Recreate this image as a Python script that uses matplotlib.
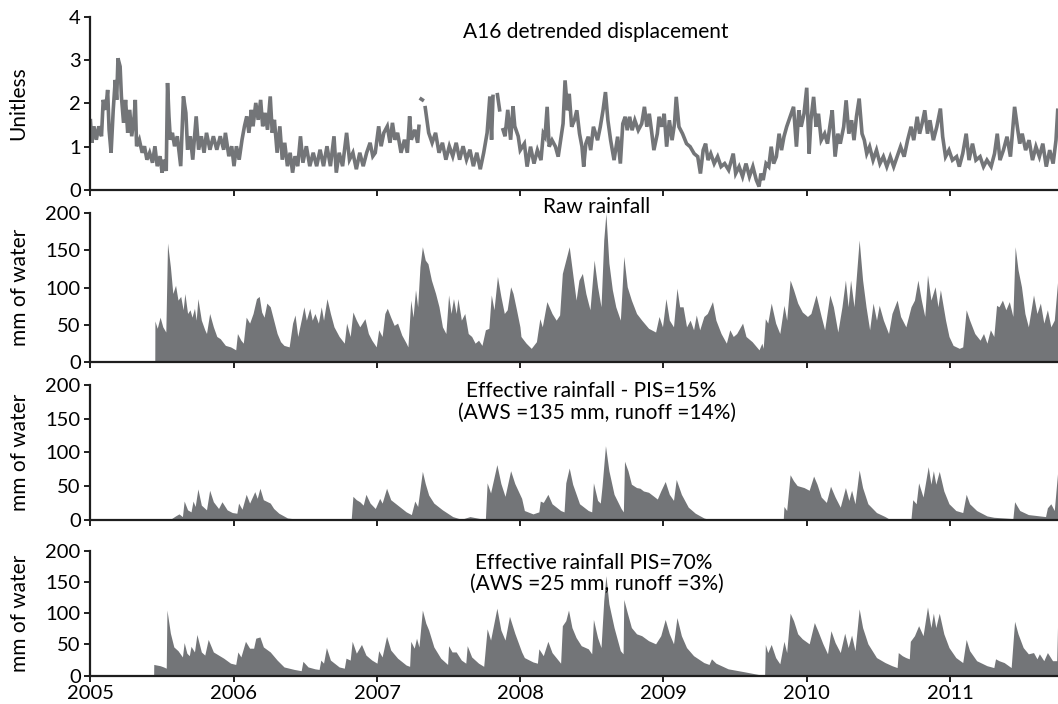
import numpy as np
import matplotlib
matplotlib.use("Agg")
import matplotlib.pyplot as plt

plt.rcParams['font.family'] = ['Lato', 'DejaVu Sans']

# all times are years after 1 Jan 2005
# A16 detrended displacement (unitless), NaN = gap in the record
disp_t = [0.000, 0.010, 0.024, 0.041, 0.058, 0.077, 0.089, 0.106, 0.120, 0.130, 0.144, 0.159, 0.173, 0.183, 0.192,
          0.207, 0.216, 0.231, 0.245, 0.260, 0.274, 0.288, 0.305, 0.313, 0.322, 0.341, 0.361, 0.377, 0.394, 0.413,
          0.433, 0.450, 0.466, 0.486, 0.500, 0.514, 0.529, 0.538, 0.548, 0.558, 0.572, 0.587, 0.606, 0.630, 0.649,
          0.666, 0.678, 0.697, 0.714, 0.738, 0.755, 0.774, 0.793, 0.810, 0.834, 0.858, 0.882, 0.906, 0.930, 0.942,
          0.966, 0.986, 1.002, 1.019, 1.038, 1.058, 1.075, 1.091, 1.106, 1.123, 1.135, 1.154, 1.171, 1.188, 1.202,
          1.219, 1.236, 1.255, 1.269, 1.284, 1.303, 1.322, 1.339, 1.356, 1.375, 1.394, 1.411, 1.428, 1.447, 1.466,
          1.483, 1.507, 1.531, 1.555, 1.579, 1.603, 1.627, 1.651, 1.675, 1.700, 1.716, 1.736, 1.760, 1.788, 1.808,
          1.832, 1.856, 1.880, 1.904, 1.928, 1.952, 1.971, 1.988, 2.012, 2.029, 2.048, 2.072, 2.091, 2.108, 2.125,
          2.144, 2.168, 2.192, 2.212, 2.228, 2.240, 2.264, 2.284, 2.293, 2.300, 2.308, 2.317, 2.325, 2.337, 2.361,
          2.385, 2.409, 2.433, 2.457, 2.481, 2.505, 2.529, 2.553, 2.577, 2.601, 2.625, 2.649, 2.673, 2.697, 2.721,
          2.745, 2.769, 2.788, 2.800, 2.810, 2.820, 2.841, 2.856, 2.866, 2.880, 2.894, 2.913, 2.933, 2.950, 2.962,
          2.986, 3.000, 3.029, 3.048, 3.072, 3.096, 3.120, 3.145, 3.161, 3.173, 3.188, 3.202, 3.222, 3.246, 3.265,
          3.282, 3.299, 3.313, 3.330, 3.342, 3.359, 3.378, 3.395, 3.414, 3.431, 3.443, 3.458, 3.475, 3.492, 3.511,
          3.540, 3.559, 3.578, 3.595, 3.612, 3.631, 3.655, 3.680, 3.699, 3.716, 3.733, 3.747, 3.764, 3.781, 3.800,
          3.824, 3.848, 3.867, 3.884, 3.901, 3.916, 3.933, 3.957, 3.969, 3.988, 4.005, 4.022, 4.041, 4.060, 4.077,
          4.089, 4.108, 4.133, 4.161, 4.186, 4.214, 4.239, 4.258, 4.277, 4.294, 4.311, 4.330, 4.354, 4.378, 4.402,
          4.427, 4.455, 4.487, 4.504, 4.528, 4.552, 4.576, 4.600, 4.624, 4.648, 4.667, 4.680, 4.696, 4.716, 4.735,
          4.752, 4.769, 4.788, 4.807, 4.824, 4.841, 4.860, 4.884, 4.908, 4.928, 4.945, 4.961, 4.981, 5.000, 5.017,
          5.029, 5.048, 5.065, 5.082, 5.101, 5.125, 5.145, 5.161, 5.178, 5.198, 5.217, 5.234, 5.258, 5.275, 5.294,
          5.313, 5.330, 5.347, 5.366, 5.386, 5.402, 5.419, 5.439, 5.463, 5.487, 5.511, 5.535, 5.559, 5.583, 5.607,
          5.631, 5.655, 5.680, 5.704, 5.728, 5.747, 5.771, 5.788, 5.805, 5.824, 5.843, 5.860, 5.884, 5.908, 5.933,
          5.949, 5.969, 5.993, 6.017, 6.046, 6.065, 6.089, 6.113, 6.133, 6.157, 6.181, 6.210, 6.234, 6.258, 6.287,
          6.311, 6.330, 6.349, 6.373, 6.398, 6.422, 6.451, 6.470, 6.487, 6.504, 6.528, 6.552, 6.576, 6.600, 6.624,
          6.648, 6.672, 6.696, 6.720, 6.740, 6.752]
disp_v = [1.60, 1.09, 1.47, 1.16, 1.47, 1.24, 2.08, 1.85, 2.31, 1.39, 0.86, 1.85, 2.54, 2.08, 3.04,
          2.85, 2.16, 1.55, 2.08, 1.32, 1.85, 1.24, 1.70, 2.08, 1.01, 1.16, 0.86, 1.01, 0.70, 0.86,
          0.63, 1.01, 0.55, 0.78, 0.40, 0.70, 0.44, 2.47, 1.70, 1.16, 1.32, 1.01, 1.24, 0.55, 2.16,
          1.78, 0.93, 1.24, 0.70, 1.70, 0.93, 1.24, 0.86, 1.32, 0.93, 1.24, 0.93, 1.24, 0.93, 1.32,
          0.78, 1.01, 0.55, 1.01, 0.70, 1.16, 1.47, 1.70, 1.32, 1.85, 1.47, 2.01, 1.62, 2.08, 1.47,
          1.78, 1.39, 2.16, 1.32, 1.62, 0.86, 1.47, 0.70, 1.09, 0.55, 0.86, 0.40, 0.78, 0.55, 1.24,
          0.63, 1.01, 0.55, 0.86, 0.55, 0.93, 0.55, 1.01, 0.55, 1.24, 0.40, 0.86, 0.55, 1.32, 0.70,
          0.86, 0.48, 0.86, 0.55, 0.86, 1.09, 0.78, 0.86, 1.47, 1.01, 1.32, 1.47, 1.09, 1.55, 1.16,
          1.32, 0.86, 1.16, 0.86, 1.70, 1.16, 1.39, 1.09, 1.47, np.nan, 2.10, 2.08, np.nan, 1.90, 1.32,
          1.09, 1.32, 0.86, 1.09, 0.70, 1.01, 0.78, 1.09, 0.70, 1.01, 0.70, 0.93, 0.55, 0.86, 0.48,
          0.86, 1.32, 2.16, 1.16, 2.16, np.nan, 2.20, 1.85, np.nan, 1.39, 1.24, 1.85, 1.16, 1.93, 1.47,
          1.24, 0.92, 1.07, 0.54, 1.00, 0.61, 0.92, 0.69, 1.30, 1.23, 1.92, 1.00, 1.15, 1.00, 0.77,
          1.15, 1.53, 2.53, 1.84, 2.22, 1.46, 1.61, 1.84, 1.30, 1.00, 0.54, 1.07, 1.23, 0.92, 1.46,
          1.15, 1.46, 1.84, 2.26, 1.61, 1.15, 0.69, 1.23, 0.61, 1.53, 1.69, 1.38, 1.69, 1.38, 1.61,
          1.38, 1.53, 1.92, 1.46, 1.76, 1.38, 0.92, 1.30, 1.69, 1.46, 1.76, 1.00, 1.61, 1.15, 1.53,
          2.15, 1.46, 1.30, 1.07, 1.00, 0.84, 0.77, 0.38, 0.92, 1.07, 0.69, 0.84, 0.61, 0.77, 0.54,
          0.61, 0.46, 0.84, 0.38, 0.54, 0.31, 0.61, 0.31, 0.54, 0.23, 0.08, 0.38, 0.23, 0.61, 0.54,
          1.00, 0.61, 0.77, 1.30, 0.92, 1.23, 1.46, 1.69, 1.92, 1.00, 1.84, 1.46, 1.76, 2.36, 0.84,
          1.61, 2.15, 1.46, 1.76, 1.15, 1.30, 1.07, 1.46, 1.84, 0.77, 1.30, 1.07, 1.46, 2.07, 1.30,
          1.61, 1.15, 1.69, 2.11, 1.30, 1.15, 0.84, 1.00, 0.69, 0.92, 0.61, 0.77, 0.54, 0.77, 0.54,
          0.77, 1.00, 0.77, 1.15, 1.46, 1.15, 1.69, 1.30, 1.53, 1.84, 1.30, 1.61, 1.15, 1.46, 1.88,
          1.23, 0.77, 0.92, 0.69, 0.77, 0.54, 0.84, 1.30, 0.69, 1.07, 0.69, 0.77, 0.54, 0.69, 0.54,
          0.84, 1.30, 0.69, 0.92, 1.23, 0.77, 1.92, 1.46, 1.07, 1.30, 0.92, 1.15, 0.69, 1.00, 0.77,
          1.07, 0.54, 0.92, 0.61, 1.15, 1.84]

# raw rainfall (mm of water)
raw_t = [0.449, 0.450, 0.466, 0.486, 0.505, 0.526, 0.538, 0.558, 0.575, 0.594, 0.611, 0.630, 0.647, 0.659, 0.678,
         0.695, 0.709, 0.726, 0.738, 0.750, 0.774, 0.798, 0.810, 0.832, 0.858, 0.882, 0.906, 0.942, 0.978, 1.014,
         1.026, 1.050, 1.067, 1.087, 1.111, 1.135, 1.159, 1.178, 1.195, 1.212, 1.231, 1.255, 1.279, 1.303, 1.327,
         1.351, 1.387, 1.411, 1.428, 1.447, 1.471, 1.490, 1.507, 1.531, 1.548, 1.567, 1.591, 1.611, 1.627, 1.651,
         1.675, 1.700, 1.736, 1.772, 1.788, 1.813, 1.832, 1.856, 1.880, 1.916, 1.940, 1.964, 1.995, 2.012, 2.036,
         2.055, 2.072, 2.096, 2.120, 2.144, 2.173, 2.204, 2.216, 2.236, 2.252, 2.269, 2.284, 2.300, 2.317, 2.337,
         2.356, 2.380, 2.409, 2.433, 2.457, 2.481, 2.500, 2.517, 2.534, 2.553, 2.565, 2.589, 2.613, 2.637, 2.661,
         2.685, 2.709, 2.733, 2.757, 2.781, 2.798, 2.817, 2.841, 2.865, 2.889, 2.909, 2.933, 2.950, 2.974, 2.998,
         3.005, 3.041, 3.077, 3.113, 3.137, 3.154, 3.186, 3.222, 3.251, 3.275, 3.294, 3.318, 3.342, 3.366, 3.390,
         3.410, 3.434, 3.458, 3.487, 3.516, 3.540, 3.564, 3.583, 3.598, 3.619, 3.643, 3.667, 3.699, 3.723, 3.747,
         3.776, 3.812, 3.848, 3.896, 3.945, 3.969, 3.993, 4.017, 4.041, 4.070, 4.094, 4.113, 4.137, 4.161, 4.186,
         4.210, 4.229, 4.253, 4.282, 4.306, 4.342, 4.366, 4.402, 4.439, 4.463, 4.487, 4.511, 4.552, 4.576, 4.619,
         4.667, 4.687, 4.696, 4.711, 4.728, 4.752, 4.783, 4.812, 4.841, 4.860, 4.884, 4.908, 4.937, 4.969, 5.005,
         5.029, 5.065, 5.101, 5.125, 5.161, 5.186, 5.217, 5.246, 5.270, 5.289, 5.306, 5.330, 5.366, 5.390, 5.414,
         5.439, 5.463, 5.487, 5.506, 5.535, 5.571, 5.595, 5.631, 5.655, 5.692, 5.728, 5.752, 5.776, 5.800, 5.824,
         5.843, 5.867, 5.896, 5.916, 5.933, 5.969, 5.993, 6.022, 6.065, 6.089, 6.113, 6.137, 6.173, 6.210, 6.234,
         6.258, 6.282, 6.306, 6.325, 6.342, 6.366, 6.390, 6.414, 6.439, 6.455, 6.475, 6.499, 6.523, 6.547, 6.583,
         6.607, 6.631, 6.655, 6.680, 6.704, 6.728, 6.752]
raw_v = [0, 55, 45, 60, 47, 40, 160, 128, 92, 103, 83, 88, 70, 92, 65,
         70, 60, 72, 56, 85, 56, 43, 38, 65, 47, 34, 31, 22, 20, 16,
         38, 29, 25, 60, 52, 65, 85, 88, 67, 60, 79, 74, 56, 38, 27,
         22, 20, 52, 63, 34, 56, 74, 56, 72, 56, 65, 52, 74, 56, 85,
         65, 47, 34, 25, 52, 34, 67, 56, 47, 58, 38, 29, 20, 43, 34,
         65, 72, 60, 49, 52, 36, 25, 20, 83, 60, 97, 74, 128, 155, 137,
         132, 110, 92, 74, 47, 38, 90, 65, 85, 65, 85, 56, 65, 38, 34,
         25, 29, 22, 43, 45, 90, 70, 115, 88, 65, 70, 101, 92, 70, 47,
         34, 25, 18, 27, 58, 47, 81, 65, 56, 63, 119, 137, 155, 119, 83,
         110, 119, 92, 70, 137, 101, 74, 164, 200, 133, 97, 74, 56, 142, 101,
         83, 65, 56, 45, 40, 61, 47, 85, 56, 47, 99, 74, 74, 47, 56,
         43, 63, 43, 61, 65, 81, 56, 38, 25, 43, 34, 38, 52, 34, 27,
         16, 25, 18, 58, 52, 79, 52, 38, 76, 56, 110, 97, 79, 67, 61,
         65, 90, 61, 43, 90, 74, 40, 74, 110, 74, 110, 74, 164, 110, 74,
         43, 79, 56, 76, 56, 38, 65, 83, 61, 47, 74, 83, 110, 83, 61,
         117, 83, 101, 74, 97, 56, 34, 22, 18, 20, 70, 56, 38, 29, 38,
         25, 43, 34, 76, 74, 83, 70, 81, 61, 155, 124, 101, 65, 47, 90,
         65, 79, 52, 70, 47, 56, 110]

# effective rainfall, PIS = 15 %
eff15_t = [0.449, 0.450, 0.558, 0.594, 0.618, 0.642, 0.654, 0.678, 0.702, 0.716, 0.731, 0.750, 0.774, 0.810, 0.832,
           0.858, 0.894, 0.918, 0.954, 0.990, 1.022, 1.034, 1.058, 1.087, 1.111, 1.147, 1.164, 1.183, 1.207, 1.255,
           1.279, 1.315, 1.375, 1.447, 1.820, 1.832, 1.856, 1.880, 1.904, 1.923, 1.952, 1.988, 2.019, 2.036, 2.067,
           2.096, 2.156, 2.204, 2.240, 2.264, 2.284, 2.317, 2.337, 2.361, 2.397, 2.457, 2.529, 2.589, 2.649, 2.721,
           2.757, 2.769, 2.793, 2.837, 2.865, 2.894, 2.933, 2.962, 3.010, 3.029, 3.089, 3.130, 3.140, 3.161, 3.193,
           3.222, 3.282, 3.306, 3.318, 3.342, 3.366, 3.414, 3.475, 3.499, 3.511, 3.540, 3.559, 3.571, 3.595, 3.619,
           3.655, 3.704, 3.720, 3.728, 3.752, 3.776, 3.812, 3.836, 3.860, 3.896, 3.933, 3.957, 3.981, 4.012, 4.041,
           4.070, 4.089, 4.125, 4.173, 4.222, 4.282, 4.330, 4.836, 4.841, 4.860, 4.884, 4.908, 4.933, 4.981, 5.017,
           5.048, 5.072, 5.101, 5.137, 5.166, 5.198, 5.234, 5.270, 5.294, 5.313, 5.337, 5.366, 5.390, 5.427, 5.487,
           5.547, 5.571, 5.728, 5.740, 5.764, 5.781, 5.812, 5.848, 5.867, 5.884, 5.901, 5.925, 5.957, 5.993, 6.041,
           6.089, 6.113, 6.137, 6.186, 6.258, 6.306, 6.439, 6.451, 6.487, 6.547, 6.667, 6.680, 6.704, 6.728, 6.752]
eff15_v = [0, 2, 1, 6, 9, 5, 28, 15, 12, 28, 20, 46, 22, 15, 44,
           27, 17, 27, 15, 11, 10, 25, 16, 38, 25, 42, 32, 47, 30, 25,
           17, 10, 3, 1, 0.5, 35, 30, 27, 22, 38, 25, 17, 32, 25, 47,
           30, 20, 12, 8, 28, 20, 72, 54, 37, 25, 15, 5, 1, 5, 2,
           2, 55, 40, 82, 54, 35, 73, 54, 32, 14, 9, 12, 28, 26, 38,
           24, 14, 12, 55, 77, 53, 24, 14, 12, 55, 29, 25, 50, 110, 73,
           38, 17, 12, 87, 73, 53, 48, 47, 43, 41, 35, 31, 43, 57, 38,
           29, 60, 38, 19, 10, 3, 0, 0, 20, 14, 67, 58, 51, 48, 44,
           65, 53, 34, 26, 50, 34, 19, 48, 29, 44, 24, 74, 48, 24, 11,
           5, 2, 2, 30, 24, 55, 34, 79, 53, 73, 53, 72, 43, 24, 14,
           11, 38, 24, 14, 6, 4, 2, 27, 14, 8, 5, 18, 24, 14, 72]

# effective rainfall, PIS = 70 %
eff70_t = [0.441, 0.442, 0.486, 0.510, 0.529, 0.534, 0.558, 0.582, 0.611, 0.642, 0.654, 0.673, 0.690, 0.702, 0.726,
           0.743, 0.774, 0.798, 0.822, 0.858, 0.894, 0.930, 0.978, 1.014, 1.029, 1.050, 1.082, 1.111, 1.139, 1.154,
           1.183, 1.207, 1.255, 1.303, 1.351, 1.423, 1.471, 1.483, 1.519, 1.567, 1.596, 1.608, 1.627, 1.647, 1.675,
           1.736, 1.772, 1.784, 1.813, 1.827, 1.856, 1.892, 1.923, 1.964, 2.000, 2.012, 2.036, 2.067, 2.096, 2.144,
           2.204, 2.228, 2.236, 2.260, 2.276, 2.293, 2.317, 2.341, 2.361, 2.397, 2.445, 2.493, 2.500, 2.524, 2.553,
           2.589, 2.620, 2.630, 2.661, 2.709, 2.745, 2.769, 2.793, 2.837, 2.865, 2.894, 2.925, 2.962, 3.010, 3.029,
           3.089, 3.120, 3.130, 3.161, 3.193, 3.222, 3.282, 3.294, 3.318, 3.337, 3.361, 3.390, 3.426, 3.475, 3.499,
           3.511, 3.540, 3.564, 3.583, 3.598, 3.619, 3.655, 3.699, 3.718, 3.723, 3.747, 3.776, 3.812, 3.848, 3.896,
           3.945, 3.981, 4.012, 4.041, 4.070, 4.094, 4.125, 4.161, 4.210, 4.282, 4.318, 4.335, 4.366, 4.451, 4.571,
           4.696, 4.706, 4.711, 4.728, 4.752, 4.783, 4.812, 4.841, 4.860, 4.884, 4.908, 4.937, 4.969, 5.017, 5.053,
           5.077, 5.113, 5.145, 5.169, 5.198, 5.234, 5.265, 5.289, 5.313, 5.337, 5.366, 5.390, 5.427, 5.487, 5.547,
           5.595, 5.631, 5.639, 5.667, 5.692, 5.716, 5.723, 5.752, 5.781, 5.812, 5.843, 5.867, 5.884, 5.901, 5.925,
           5.957, 5.993, 6.041, 6.089, 6.113, 6.137, 6.186, 6.258, 6.306, 6.318, 6.342, 6.378, 6.427, 6.451, 6.475,
           6.511, 6.547, 6.583, 6.607, 6.624, 6.655, 6.680, 6.716, 6.745, 6.752]
eff70_v = [0, 18, 16, 14, 12, 105, 68, 46, 40, 30, 53, 36, 32, 47, 38,
           66, 38, 33, 58, 38, 33, 28, 20, 18, 38, 30, 55, 44, 44, 60,
           62, 46, 38, 25, 14, 10, 8, 23, 14, 11, 10, 25, 20, 45, 25,
           14, 12, 28, 25, 55, 36, 50, 33, 25, 20, 40, 30, 63, 41, 28,
           17, 15, 55, 44, 60, 46, 105, 84, 73, 46, 28, 18, 48, 38, 38,
           25, 20, 48, 30, 20, 15, 75, 57, 108, 73, 57, 95, 68, 38, 29,
           22, 20, 43, 32, 55, 37, 20, 80, 88, 105, 77, 61, 48, 43, 35,
           90, 61, 45, 120, 160, 115, 77, 40, 35, 122, 101, 77, 67, 64, 56,
           51, 64, 90, 67, 51, 93, 64, 45, 32, 21, 18, 27, 20, 11, 6,
           0.5, 0, 50, 37, 50, 29, 19, 55, 37, 100, 88, 67, 59, 51, 85,
           72, 51, 35, 72, 53, 37, 68, 45, 65, 40, 107, 77, 51, 29, 21,
           16, 13, 37, 32, 29, 27, 55, 64, 80, 64, 110, 77, 100, 77, 100,
           67, 45, 29, 21, 58, 40, 24, 16, 13, 27, 24, 21, 13, 87, 67,
           45, 35, 37, 27, 35, 24, 37, 24, 24, 92]

years = [2005, 2006, 2007, 2008, 2009, 2010, 2011]

grey = '#737578'
ink = '#1e1e1e'
fs = 15

fig = plt.figure(figsize=(10.58, 7.04), dpi=100)
left, width = 0.0855, 0.9145
ax1 = fig.add_axes([left, 0.7301, width, 0.2462])
ax2 = fig.add_axes([left, 0.4862, width, 0.2108])
ax3 = fig.add_axes([left, 0.2614, width, 0.1918])
ax4 = fig.add_axes([left, 0.0402, width, 0.1776])

t0 = 2005
ax1.plot(t0 + np.array(disp_t), disp_v, color=grey, lw=2.6, solid_joinstyle='miter')
ax2.fill_between(t0 + np.array(raw_t), raw_v, color=grey, lw=0)
ax3.fill_between(t0 + np.array(eff15_t), eff15_v, color=grey, lw=0)
ax4.fill_between(t0 + np.array(eff70_t), eff70_v, color=grey, lw=0)

for ax in [ax1, ax2, ax3, ax4]:
    ax.set_xlim(2005, 2011.754)
    ax.set_xticks(years)
    for s in ['top', 'right']:
        ax.spines[s].set_visible(False)
    for s in ['left', 'bottom']:
        ax.spines[s].set_linewidth(1.6)
        ax.spines[s].set_color(ink)
    ax.tick_params(direction='out', length=4, width=1.4, color=ink, labelsize=14.5, pad=3)
    ax.tick_params(axis='x', pad=2.5)
    ax.set_facecolor('none')

ax1.set_ylim(0, 4)
ax1.set_yticks([0, 1, 2, 3, 4])
ax1.set_ylabel('Unitless', fontsize=fs, va='center')
ax1.yaxis.set_label_coords(-0.075, 0.5)
for ax in [ax2, ax3, ax4]:
    ax.set_ylim(0, 200)
    ax.set_yticks([0, 50, 100, 150, 200])
    ax.set_ylabel('mm of water', fontsize=fs, va='center')
    ax.yaxis.set_label_coords(-0.073, 0.5)
for ax in [ax1, ax2, ax3]:
    ax.set_xticklabels([])
ax4.set_xticklabels([str(y) for y in years])

ax1.text(0.5225, 0.913, 'A16 detrended displacement', transform=ax1.transAxes,
         ha='center', va='center', fontsize=fs)
ax2.text(0.523, 1.044, 'Raw rainfall', transform=ax2.transAxes,
         ha='center', va='center', fontsize=fs, clip_on=False)
ax3.text(0.518, 0.955, 'Effective rainfall - PIS=15%', transform=ax3.transAxes,
         ha='center', va='center', fontsize=fs)
ax3.text(0.5235, 0.795, '(AWS =135 mm, runoff =14%)', transform=ax3.transAxes,
         ha='center', va='center', fontsize=fs)
ax4.text(0.520, 0.902, 'Effective rainfall PIS=70%', transform=ax4.transAxes,
         ha='center', va='center', fontsize=fs)
ax4.text(0.5235, 0.735, '(AWS =25 mm, runoff =3%)', transform=ax4.transAxes,
         ha='center', va='center', fontsize=fs)

fig.savefig('out.png', dpi=100)
